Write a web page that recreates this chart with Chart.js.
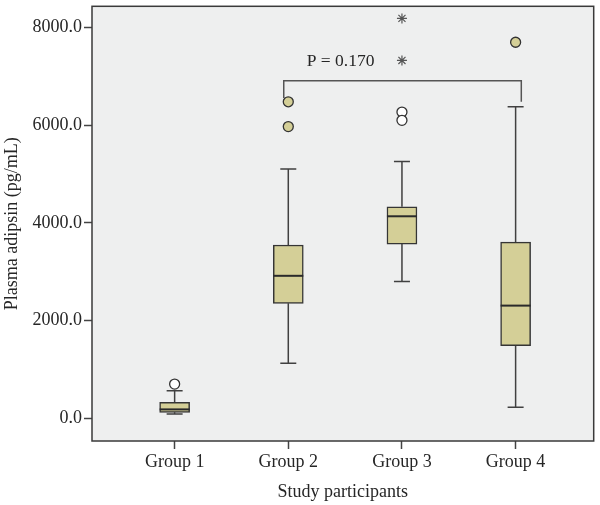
<!DOCTYPE html>
<html>
<head>
<meta charset="utf-8">
<script src="https://cdn.jsdelivr.net/npm/chart.js@4.4.1/dist/chart.umd.min.js"></script>
<style>
  html, body { margin: 0; padding: 0; background: #ffffff; }
  #wrap { width: 600px; height: 505px; }
</style>
</head>
<body>
<div id="wrap"><canvas id="c" width="600" height="505"></canvas></div>
<script>
// ---- data ----
const groups = ['Group 1', 'Group 2', 'Group 3', 'Group 4'];
const whiskerLow  = [85, 1126, 2799, 224];
const q1          = [120, 2352, 3565, 1484];
const median      = [180, 2915, 4134, 2305];
const q3          = [325, 3545, 4329, 3606];
const whiskerHigh = [563, 5102, 5258, 6376];
// outliers (circles): [groupIndex, value]
const outliersFilled = [[2, 6478], [2, 5970], [4, 7697]];
const outliersOpen   = [[1, 699], [3, 6268], [3, 6098]];
// extreme values (asterisks)
const extremes = [[3, 8185], [3, 7325]];
const yTicks = [0, 2000, 4000, 6000, 8000];
const bracket = [[1.96, 6557], [1.96, 6911], [4.05, 6911], [4.05, 6478]];
const pLabel = 'P = 0.170';
const pLabelPos = [2.46, 7310];

const FONT = "'Liberation Serif', 'Times New Roman', serif";
const TEXT = '#262626';
const LINE = '#404040';
const FILL = '#d4cf97';

const boxPlugin = {
  id: 'boxPlugin',
  beforeDraw(chart) {
    const {ctx, chartArea: a} = chart;
    ctx.save();
    ctx.fillStyle = '#eeefef';
    ctx.fillRect(a.left, a.top, a.right - a.left, a.bottom - a.top);
    ctx.restore();
  },
  beforeDatasetsDraw(chart) {
    const {ctx, scales: {x, y}} = chart;
    ctx.save();
    ctx.strokeStyle = LINE;
    ctx.lineWidth = 1.5;
    groups.forEach((g, i) => {
      const px = x.getPixelForValue(i + 1);
      const capHalf = 8;
      ctx.beginPath();
      ctx.moveTo(px, y.getPixelForValue(q3[i]));
      ctx.lineTo(px, y.getPixelForValue(whiskerHigh[i]));
      ctx.moveTo(px - capHalf, y.getPixelForValue(whiskerHigh[i]));
      ctx.lineTo(px + capHalf, y.getPixelForValue(whiskerHigh[i]));
      ctx.moveTo(px, y.getPixelForValue(q1[i]));
      ctx.lineTo(px, y.getPixelForValue(whiskerLow[i]));
      ctx.moveTo(px - capHalf, y.getPixelForValue(whiskerLow[i]));
      ctx.lineTo(px + capHalf, y.getPixelForValue(whiskerLow[i]));
      ctx.stroke();
    });
    ctx.restore();
  },
  afterDatasetsDraw(chart) {
    const {ctx, scales: {x, y}, chartArea: a} = chart;
    ctx.save();
    // medians
    ctx.strokeStyle = '#2a2a2a';
    ctx.lineWidth = 2;
    groups.forEach((g, i) => {
      const px = x.getPixelForValue(i + 1);
      const py = y.getPixelForValue(median[i]);
      ctx.beginPath();
      ctx.moveTo(px - 15, py);
      ctx.lineTo(px + 15, py);
      ctx.stroke();
    });
    // P label
    ctx.fillStyle = TEXT;
    ctx.font = '17.5px ' + FONT;
    ctx.textAlign = 'center';
    ctx.textBaseline = 'middle';
    ctx.fillText(pLabel, x.getPixelForValue(pLabelPos[0]), y.getPixelForValue(pLabelPos[1]));
    // frame
    ctx.strokeStyle = '#3a3a3a';
    ctx.lineWidth = 1.5;
    ctx.strokeRect(a.left, a.top, a.right - a.left, a.bottom - a.top);
    ctx.restore();
  }
};

const pts = arr => arr.map(([g, v]) => ({x: g, y: v}));

new Chart(document.getElementById('c'), {
  type: 'bar',
  data: {
    datasets: [
      {
        type: 'bar',
        data: groups.map((g, i) => ({x: i + 1, y: [q1[i], q3[i]]})),
        backgroundColor: FILL,
        borderColor: '#353535',
        borderWidth: 1.5,
        borderSkipped: false,
        barThickness: 30,
        order: 3
      },
      {
        type: 'line',
        data: pts(bracket),
        borderColor: '#555555',
        borderWidth: 1.5,
        pointRadius: 0,
        tension: 0,
        fill: false,
        order: 2
      },
      {
        type: 'scatter',
        data: pts(outliersFilled),
        pointStyle: 'circle',
        pointRadius: 5,
        backgroundColor: FILL,
        borderColor: '#333333',
        borderWidth: 1.3,
        order: 1
      },
      {
        type: 'scatter',
        data: pts(outliersOpen),
        pointStyle: 'circle',
        pointRadius: 5,
        backgroundColor: '#ffffff',
        borderColor: '#333333',
        borderWidth: 1.3,
        order: 1
      },
      {
        type: 'scatter',
        data: pts(extremes),
        pointStyle: 'star',
        pointRadius: 5,
        backgroundColor: '#555555',
        borderColor: '#555555',
        borderWidth: 1.2,
        order: 1
      }
    ]
  },
  options: {
    responsive: false,
    animation: false,
    devicePixelRatio: 1,
    layout: { padding: { top: 2, right: 3, left: 0, bottom: 0 } },
    plugins: { legend: { display: false }, tooltip: { enabled: false } },
    scales: {
      x: {
        type: 'linear',
        min: 0.273,
        max: 4.687,
        offset: false,
        afterBuildTicks: s => { s.ticks = groups.map((g, i) => ({value: i + 1})); },
        afterFit: s => { s.height = 64; s.paddingLeft = 0; s.paddingRight = 0; },
        ticks: {
          callback: (v) => groups[Math.round(v) - 1] || '',
          font: { family: FONT, size: 18 },
          color: TEXT,
          padding: 2,
          maxRotation: 0,
          autoSkip: false
        },
        grid: { offset: false, drawOnChartArea: false, drawTicks: true, tickLength: 8, tickColor: '#444444', tickWidth: 1.5 },
        border: { display: false },
        title: {
          display: true,
          text: 'Study participants',
          font: { family: FONT, size: 18 },
          color: TEXT,
          padding: { top: 0, bottom: 2 }
        }
      },
      y: {
        type: 'linear',
        min: -467,
        max: 8433,
        afterBuildTicks: s => { s.ticks = yTicks.map(v => ({value: v})); },
        afterFit: s => { s.width = 92; s.paddingTop = 0; s.paddingBottom = 0; },
        ticks: {
          callback: v => Number(v).toFixed(1),
          font: { family: FONT, size: 18 },
          color: TEXT,
          padding: 2
        },
        grid: { drawOnChartArea: false, drawTicks: true, tickLength: 8, tickColor: '#444444', tickWidth: 1.5 },
        border: { display: false },
        title: {
          display: true,
          text: 'Plasma adipsin (pg/mL)',
          font: { family: FONT, size: 18 },
          color: TEXT,
          padding: { top: 1, bottom: 0 }
        }
      }
    }
  },
  plugins: [boxPlugin]
});
</script>
</body>
</html>
